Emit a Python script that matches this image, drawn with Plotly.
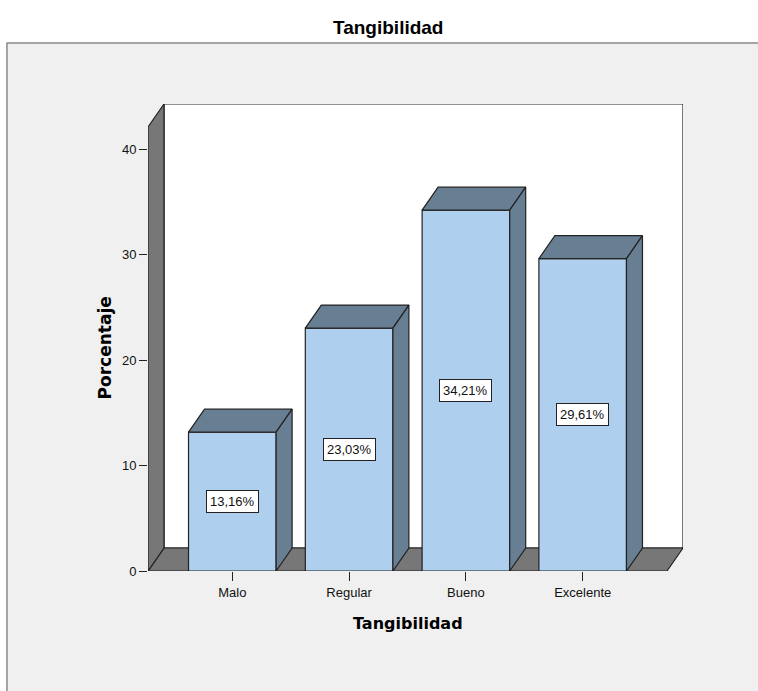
import plotly.graph_objects as go

# Frequency table: Tangibilidad
categories = ["Malo", "Regular", "Bueno", "Excelente"]
percentages = [13.16, 23.03, 34.21, 29.61]
value_labels = ["13,16%", "23,03%", "34,21%", "29,61%"]
y_ticks = [0, 10, 20, 30, 40]

# 3D look: depth offset of the back plane in data units
DX = 0.137
DY = 2.18
HALF = 0.375          # half bar width
X_LO, X_HI = -0.722, 3.722
Y_TOP = 42.09

FRONT = "#aed0ee"
SHADE = "#687e93"
WALL = "#777777"
EDGE = "#222222"

fig = go.Figure()


def poly(xs, ys, fill, width=1.2):
    fig.add_trace(go.Scatter(
        x=xs + [xs[0]], y=ys + [ys[0]], mode="lines", fill="toself",
        fillcolor=fill, line=dict(color=EDGE, width=width),
        hoverinfo="skip", showlegend=False))


# back wall
poly([X_LO + DX, X_HI + DX, X_HI + DX, X_LO + DX],
     [DY, DY, Y_TOP + DY, Y_TOP + DY], "#ffffff")
# floor
poly([X_LO, X_HI, X_HI + DX, X_LO + DX], [0, 0, DY, DY], WALL)
# left side wall
poly([X_LO, X_LO + DX, X_LO + DX, X_LO], [0, DY, Y_TOP + DY, Y_TOP], WALL)

# bars: front face, top face, right face
for i, v in enumerate(percentages):
    l, r = i - HALF, i + HALF
    poly([l, r, r, l], [0, 0, v, v], FRONT)
    poly([l, r, r + DX, l + DX], [v, v, v + DY, v + DY], SHADE)
    poly([r, r + DX, r + DX, r], [0, DY, v + DY, v], SHADE)
    fig.add_annotation(x=i, y=v / 2, text=value_labels[i], showarrow=False,
                       bgcolor="#ffffff", bordercolor=EDGE, borderwidth=1,
                       borderpad=3,
                       font=dict(family="Liberation Sans", size=13, color="#111111"))

# outer chart frame
fig.add_shape(type="rect", xref="paper", yref="paper",
              x0=-0.2636, x1=1.3, y0=-0.4, y1=1.1306,
              fillcolor="#f0f0f0", line=dict(color="#8a8a8a", width=1.5),
              layer="below")

# chart title
fig.add_annotation(xref="paper", yref="paper", x=0.449, y=1.0, yshift=104 - 27,
                   text="<b>Tangibilidad</b>", showarrow=False,
                   xanchor="center", yanchor="middle",
                   font=dict(family="Liberation Sans", size=19, color="#000000"))
# axis titles
fig.add_annotation(xref="x", yref="paper", x=1.5, y=0, yshift=-52,
                   text="<b>Tangibilidad</b>", showarrow=False,
                   xanchor="center", yanchor="middle",
                   font=dict(family="DejaVu Sans", size=16, color="#000000"))
fig.add_annotation(xref="paper", yref="y", x=0, xshift=-43, y=21.1,
                   text="<b>Porcentaje</b>", showarrow=False, textangle=-90,
                   xanchor="center", yanchor="middle",
                   font=dict(family="DejaVu Sans", size=17, color="#000000"))

fig.update_layout(
    width=758, height=691,
    margin=dict(l=148, r=75, t=104, b=120),
    paper_bgcolor="#ffffff",
    plot_bgcolor="rgba(0,0,0,0)",
    showlegend=False,
    xaxis=dict(range=[X_LO, X_HI + DX], tickmode="array",
               tickvals=list(range(len(categories))), ticktext=categories,
               ticks="outside", ticklen=9, tickcolor=EDGE, tickwidth=1.2,
               showgrid=False, zeroline=False, showline=False,
               tickfont=dict(family="Liberation Sans", size=13, color="#111111")),
    yaxis=dict(range=[0, Y_TOP + DY], tickmode="array", tickvals=y_ticks,
               ticks="outside", ticklen=8, tickcolor=EDGE, tickwidth=1.2,
               showgrid=False, zeroline=False, showline=False,
               tickfont=dict(family="Liberation Sans", size=13, color="#111111")),
)

fig.write_html("out.html")
